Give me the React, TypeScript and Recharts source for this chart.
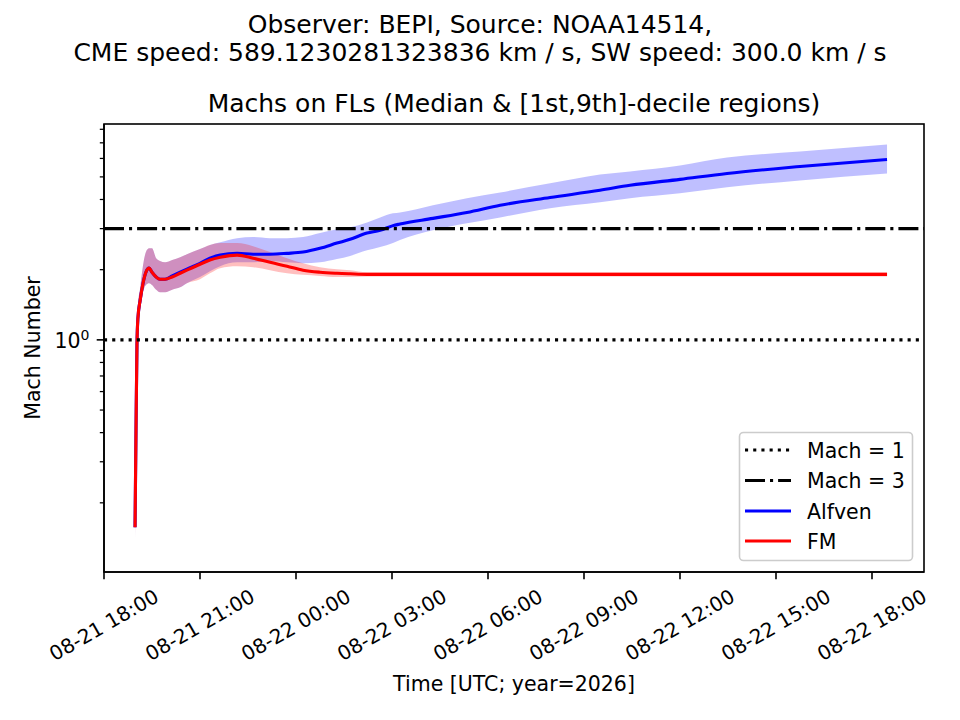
import React from "react";
import {
  ComposedChart,
  Area,
  Line,
  XAxis,
  YAxis,
  ReferenceLine,
} from "recharts";

// hours after 2026-08-21 18:00 UTC
const hours = [
  0.97, 1.0, 1.03, 1.06, 1.13, 1.22, 1.31, 1.41, 1.5, 1.63, 1.75, 1.91, 2.13,
  2.38, 2.59, 3.0, 3.31, 3.63, 4.16, 4.66, 5.19, 5.72, 6.22, 6.75, 7.28, 7.69,
  8.22, 8.63, 9.03, 9.25, 10.28, 11.34, 12.38, 13.94, 15.5, 16.44, 18.0, 19.47,
  21.75, 24.47,
];

const alfvenMedian = [
  0.157, 0.41, 0.95, 1.24, 1.48, 1.75, 1.95, 2.03, 1.95, 1.86, 1.82, 1.82, 1.88,
  1.95, 2.01, 2.13, 2.24, 2.31, 2.35, 2.33, 2.33, 2.35, 2.38, 2.47, 2.6, 2.7,
  2.87, 2.95, 3.09, 3.14, 3.32, 3.52, 3.78, 4.08, 4.38, 4.6, 4.88, 5.17, 5.54,
  5.94,
];
const alfvenHigh = [
  0.167, 0.455, 1.05, 1.41, 1.67, 2.09, 2.38, 2.47, 2.47, 2.24, 2.18, 2.15, 2.2,
  2.26, 2.33, 2.45, 2.55, 2.62, 2.73, 2.76, 2.73, 2.73, 2.76, 2.87, 2.98, 3.04,
  3.19, 3.35, 3.49, 3.52, 3.78, 4.05, 4.29, 4.69, 5.12, 5.28, 5.6, 6.05, 6.42,
  6.88,
];
const alfvenLow = [
  0.14, 0.374, 0.863, 1.1, 1.34, 1.6, 1.72, 1.75, 1.72, 1.64, 1.6, 1.6, 1.64,
  1.68, 1.75, 1.86, 1.97, 2.07, 2.15, 2.15, 2.18, 2.15, 2.13, 2.15, 2.22, 2.29,
  2.42, 2.5, 2.6, 2.68, 2.95, 3.16, 3.35, 3.67, 3.89, 4.05, 4.25, 4.51, 4.83,
  5.17,
];

const fmMedian = [
  0.157, 0.41, 0.95, 1.24, 1.48, 1.75, 1.95, 2.03, 1.95, 1.86, 1.82, 1.82, 1.86,
  1.93, 1.99, 2.11, 2.2, 2.26, 2.31, 2.24, 2.15, 2.07, 1.99, 1.95, 1.93, 1.92,
  1.91, 1.91, 1.91, 1.91, 1.91, 1.91, 1.91, 1.91, 1.91, 1.91, 1.91, 1.91, 1.91,
  1.91,
];
const fmHigh = [
  0.167, 0.455, 1.05, 1.41, 1.67, 2.09, 2.38, 2.47, 2.47, 2.24, 2.18, 2.15, 2.2,
  2.26, 2.33, 2.45, 2.55, 2.6, 2.6, 2.52, 2.38, 2.24, 2.13, 2.05, 2.01, 1.99,
  1.95, 1.95, 1.95, 1.95, 1.95, 1.95, 1.95, 1.95, 1.95, 1.95, 1.95, 1.95, 1.95,
  1.95,
];
const fmLow = [
  0.14, 0.374, 0.863, 1.1, 1.34, 1.6, 1.72, 1.75, 1.72, 1.64, 1.6, 1.6, 1.64,
  1.68, 1.75, 1.82, 1.93, 2.03, 2.07, 2.05, 1.99, 1.93, 1.9, 1.88, 1.86, 1.86,
  1.87, 1.87, 1.87, 1.87, 1.87, 1.87, 1.87, 1.87, 1.87, 1.87, 1.87, 1.87, 1.87,
  1.87,
];

const xTickHours = [0, 3, 6, 9, 12, 15, 18, 21, 24];
const xTickLabels = [
  "08-21 18:00",
  "08-21 21:00",
  "08-22 00:00",
  "08-22 03:00",
  "08-22 06:00",
  "08-22 09:00",
  "08-22 12:00",
  "08-22 15:00",
  "08-22 18:00",
];
const yTicks = [0.2, 0.3, 0.4, 0.5, 0.6, 0.7, 0.8, 0.9, 1, 2, 3, 4, 5, 6, 7, 8];

const FONT = "'DejaVu Sans', sans-serif";

const rows = hours.map((t, i) => ({
  t,
  alfven: alfvenMedian[i],
  alfvenBand: [alfvenLow[i], alfvenHigh[i]],
  fm: fmMedian[i],
  fmBand: [fmLow[i], fmHigh[i]],
}));

const XTick = (props: any) => {
  const { x, y, payload } = props;
  const label = xTickLabels[xTickHours.indexOf(payload.value)];
  const cy = y + 53;
  return (
    <g>
      <line x1={x} x2={x} y1={y} y2={y + 7.3} stroke="#000" strokeWidth={1.6} />
      <text
        x={x}
        y={cy}
        transform={`rotate(-30 ${x} ${cy})`}
        textAnchor="middle"
        dominantBaseline="central"
        fontSize={20}
        fontFamily={FONT}
        fill="#000"
      >
        {label}
      </text>
    </g>
  );
};

const YTick = (props: any) => {
  const { x, y, payload } = props;
  if (payload.value !== 1) {
    return <line x1={x} x2={x - 4.2} y1={y} y2={y} stroke="#000" strokeWidth={1.25} />;
  }
  return (
    <g>
      <line x1={x} x2={x - 7.3} y1={y} y2={y} stroke="#000" strokeWidth={1.6} />
      <text x={x - 14.5} y={y + 8} textAnchor="end" fontSize={20.5} fontFamily={FONT} fill="#000">
        10
        <tspan dy={-8} fontSize={14}>
          0
        </tspan>
      </text>
    </g>
  );
};

const legendRows = [
  { label: "Mach = 1", color: "#000", dash: "3.1 5.1", y: 450 },
  { label: "Mach = 3", color: "#000", dash: "20 5 3.1 5", y: 480.5 },
  { label: "Alfven", color: "#0000ff", dash: undefined, y: 511 },
  { label: "FM", color: "#ff0000", dash: undefined, y: 541 },
];

export default function App() {
  return (
    <div style={{ position: "absolute", left: 0, top: 0, width: 960, height: 720, background: "#fff" }}>
      <ComposedChart
        width={960}
        height={720}
        data={rows}
        margin={{ top: 124, right: 36, bottom: 0, left: 0 }}
      >
        <XAxis
          type="number"
          dataKey="t"
          domain={[0, 25.625]}
          ticks={xTickHours}
          interval={0}
          tick={<XTick />}
          tickLine={false}
          tickSize={0}
          tickMargin={0}
          height={148}
          allowDataOverflow
          axisLine={{ stroke: "#000", strokeWidth: 1.6 }}
        />
        <YAxis
          scale="log"
          type="number"
          domain={[0.101, 8.43]}
          allowDataOverflow
          ticks={yTicks}
          interval={0}
          tick={<YTick />}
          tickLine={false}
          tickSize={0}
          tickMargin={0}
          width={104}
          axisLine={{ stroke: "#000", strokeWidth: 1.6 }}
        />
        <Area
          type="monotone"
          dataKey="alfvenBand"
          stroke="none"
          fill="#0000ff"
          fillOpacity={0.25}
          isAnimationActive={false}
        />
        <Area
          type="monotone"
          dataKey="fmBand"
          stroke="none"
          fill="#ff0000"
          fillOpacity={0.25}
          isAnimationActive={false}
        />
        <Line
          type="monotone"
          dataKey="alfven"
          stroke="#0000ff"
          strokeWidth={3.1}
          dot={false}
          isAnimationActive={false}
        />
        <Line
          type="monotone"
          dataKey="fm"
          stroke="#ff0000"
          strokeWidth={3.1}
          dot={false}
          isAnimationActive={false}
        />
        <ReferenceLine y={1} stroke="#000" strokeWidth={3.1} strokeDasharray="3.1 5.1" />
        <ReferenceLine y={3} stroke="#000" strokeWidth={3.1} strokeDasharray="20 5 3.1 5" />
      </ComposedChart>

      <svg
        width={960}
        height={720}
        style={{ position: "absolute", left: 0, top: 0, pointerEvents: "none" }}
        fontFamily={FONT}
      >
        {/* axes frame (top and right spines) */}
        <rect x={104} y={124} width={820} height={448} fill="none" stroke="#000" strokeWidth={1.6} />

        <text x={480} y={32.5} textAnchor="middle" fontSize={25}>
          Observer: BEPI, Source: NOAA14514,
        </text>
        <text x={480} y={61} textAnchor="middle" fontSize={25}>
          CME speed: 589.1230281323836 km / s, SW speed: 300.0 km / s
        </text>
        <text x={514} y={112} textAnchor="middle" fontSize={25}>
          Machs on FLs (Median &amp; [1st,9th]-decile regions)
        </text>
        <text x={514} y={691} textAnchor="middle" fontSize={20.5}>
          Time [UTC; year=2026]
        </text>
        <text x={40} y={348} textAnchor="middle" fontSize={20.5} transform="rotate(-90 40 348)">
          Mach Number
        </text>

        <rect
          x={739.5}
          y={432.5}
          width={173}
          height={128}
          rx={4}
          fill="#fff"
          fillOpacity={0.8}
          stroke="#cccccc"
          strokeWidth={1.6}
        />
        {legendRows.map((r) => (
          <g key={r.label}>
            <line
              x1={745}
              x2={791}
              y1={r.y}
              y2={r.y}
              stroke={r.color}
              strokeWidth={3.1}
              strokeDasharray={r.dash}
            />
            <text x={807} y={r.y + 7.5} fontSize={20.5}>
              {r.label}
            </text>
          </g>
        ))}
      </svg>
    </div>
  );
}
